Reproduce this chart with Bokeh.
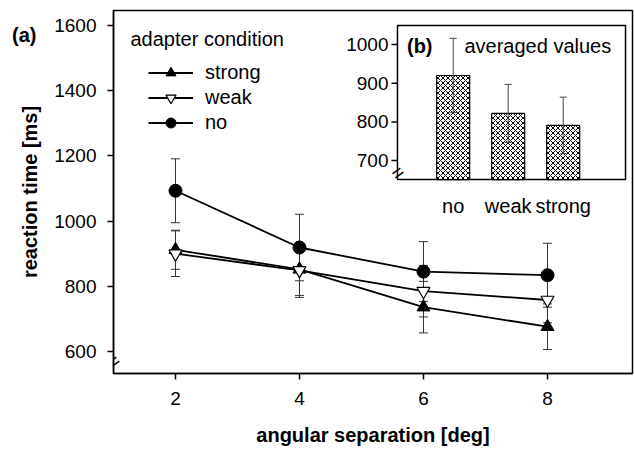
from bokeh.plotting import figure
from bokeh.models import (ColumnDataSource, Range1d, FixedTicker, Whisker, TeeHead,
                          Legend, LegendItem, Label, LinearAxis)
from bokeh.core.properties import value
from bokeh.embed import file_html
from bokeh.resources import INLINE

# ---------------- data ----------------
separation = [2, 4, 6, 8]
rt_strong = [912, 852, 736, 676]
err_strong = [60, 80, 79, 70]
rt_weak = [900, 849, 785, 758]
err_weak = [70, 83, 79, 70]
rt_no = [1093, 919, 845, 834]
err_no = [98, 102, 92, 98]
main_xticks = [2, 4, 6, 8]
main_yticks = [600, 800, 1000, 1200, 1400, 1600]

avg_conditions = ["no", "weak", "strong"]
avg_values = [920, 822, 791]
avg_errors = [96, 75, 73]
inset_yticks = [700, 800, 900, 1000]

FONT = "Liberation Sans"

# ---------------- main figure ----------------
p = figure(width=634, height=450, output_backend="svg", toolbar_location=None,
           x_range=Range1d(1.0, 9.371), y_range=Range1d(532.5, 1646),
           min_border_left=113, min_border_right=2, min_border_top=10,
           min_border_bottom=77)
p.extra_x_ranges = {"ix": Range1d(-6.176, 3.26)}
p.extra_y_ranges = {"iy": Range1d(149.9, 1087.9)}
p.xgrid.visible = False
p.ygrid.visible = False
p.outline_line_color = "black"
p.outline_line_width = 1.5
p.background_fill_color = "white"
p.border_fill_color = "white"

for ax in (p.xaxis[0], p.yaxis[0]):
    ax.axis_line_width = 1.5
    ax.major_tick_line_width = 1.5
    ax.major_tick_out = 6
    ax.major_tick_in = 0
    ax.minor_tick_line_color = None
    ax.major_label_text_font = FONT
    ax.major_label_text_font_size = "19px"
    ax.major_label_text_color = "black"
    ax.axis_label_text_font = FONT
    ax.axis_label_text_font_size = "20px"
    ax.axis_label_text_font_style = "bold"
    ax.axis_label_text_color = "black"

p.xaxis.ticker = FixedTicker(ticks=main_xticks)
p.yaxis.ticker = FixedTicker(ticks=main_yticks)
p.xaxis.axis_label = "angular separation [deg]"
p.yaxis.axis_label = "reaction time [ms]"
p.xaxis.major_label_standoff = 12
p.xaxis.axis_label_standoff = 16
p.yaxis.major_label_standoff = 11
p.yaxis.axis_label_standoff = 10

# panel tag "(a)" drawn as the only label of an invisible outer axis
A_TAG_Y = 1572
ax_a = LinearAxis(ticker=FixedTicker(ticks=[A_TAG_Y]),
                  major_label_overrides={A_TAG_Y: "(a)"},
                  axis_line_color=None, major_tick_line_color=None,
                  minor_tick_line_color=None, major_tick_out=0, major_tick_in=0,
                  major_label_standoff=-20,
                  major_label_text_font=FONT, major_label_text_font_size="20px",
                  major_label_text_font_style="bold",
                  major_label_text_color="black")
p.add_layout(ax_a, "left")


def add_err(xs, ys, es, size=9, color="#333", level="underlay", **rng):
    src = ColumnDataSource(dict(x=xs,
                                upper=[a + b for a, b in zip(ys, es)],
                                lower=[a - b for a, b in zip(ys, es)]))
    w = Whisker(source=src, base="x", upper="upper", lower="lower",
                dimension="height", line_color=color, line_width=1, level=level,
                upper_head=TeeHead(size=size, line_color=color, line_width=1),
                lower_head=TeeHead(size=size, line_color=color, line_width=1),
                **rng)
    p.add_layout(w)


add_err(separation, rt_strong, err_strong)
add_err(separation, rt_weak, err_weak)
add_err(separation, rt_no, err_no)

l_s = p.line(separation, rt_strong, line_color="black", line_width=1.8)
m_s = p.scatter(separation, rt_strong, marker="triangle", size=13,
                fill_color="black", line_color="black")
l_w = p.line(separation, rt_weak, line_color="black", line_width=1.8)
m_w = p.scatter(separation, rt_weak, marker="inverted_triangle", size=13,
                fill_color="white", line_color="black", line_width=1.2)
l_n = p.line(separation, rt_no, line_color="black", line_width=1.8)
m_n = p.scatter(separation, rt_no, marker="circle", size=13,
                fill_color="black", line_color="black")

legend = Legend(items=[LegendItem(label="strong", renderers=[l_s, m_s]),
                       LegendItem(label="weak", renderers=[l_w, m_w]),
                       LegendItem(label="no", renderers=[l_n, m_n])],
                location=(35, 238), glyph_width=45, glyph_height=25,
                label_height=25, spacing=0, label_standoff=12,
                padding=0, margin=0, border_line_alpha=0,
                background_fill_alpha=0,
                label_text_font=FONT, label_text_font_size="20px",
                label_text_color="black")
p.add_layout(legend)

p.add_layout(Label(x=1.274, y=1559, text="adapter condition",
                   text_font=FONT, text_font_size="20px",
                   text_baseline="alphabetic", text_color="black"))
# axis break mark on main y axis
p.add_layout(Label(x=1.0, y=569, text="=", angle=0.63, text_font=FONT,
                   text_font_size="20px", text_align="center",
                   text_baseline="middle", text_color="black"))

# ---------------- inset (b) ----------------
IL, IR, IB, IT = -1.013, 3.133, 651, 1049
irng = dict(x_range_name="ix", y_range_name="iy")
p.quad(left=[IL], right=[IR], bottom=[IB], top=[IT], fill_color="white",
       line_color="black", line_width=1.5, **irng)

idx = list(range(len(avg_conditions)))
p.vbar(x=idx, top=avg_values, bottom=IB, width=0.6, fill_color="white",
       line_color="black", line_width=1.2, hatch_pattern="diagonal_cross",
       hatch_color="black", hatch_scale=5, hatch_weight=1, **irng)
add_err(idx, avg_values, avg_errors, size=7, color="#444", level="annotation",
        **irng)

p.segment(x0=[IL] * len(inset_yticks), x1=[IL - 0.109] * len(inset_yticks),
          y0=inset_yticks, y1=inset_yticks, line_color="black", line_width=1.5,
          **irng)
p.text(x=[IL] * len(inset_yticks), y=inset_yticks,
       text=[str(t) for t in inset_yticks], x_offset=-9, text_align="right",
       text_baseline="middle", text_font=value(FONT), text_font_size="19px",
       text_color="black", **irng)
p.text(x=idx, y=[IB] * len(idx), text=avg_conditions, y_offset=26,
       text_align="center", text_baseline="alphabetic", text_font=value(FONT),
       text_font_size="20px", text_color="black", **irng)

p.add_layout(Label(x=-0.84, y=997, text="(b)", text_font=FONT,
                   text_font_size="20px", text_font_style="bold",
                   text_baseline="alphabetic", text_color="black", **irng))
p.add_layout(Label(x=0.205, y=997, text="averaged values", text_font=FONT,
                   text_font_size="20px", text_baseline="alphabetic",
                   text_color="black", **irng))
p.add_layout(Label(x=IL, y=669, text="=", angle=0.63, text_font=FONT,
                   text_font_size="20px", text_align="center",
                   text_baseline="middle", text_color="black", **irng))

open("out.html", "w").write(file_html(p, INLINE))
